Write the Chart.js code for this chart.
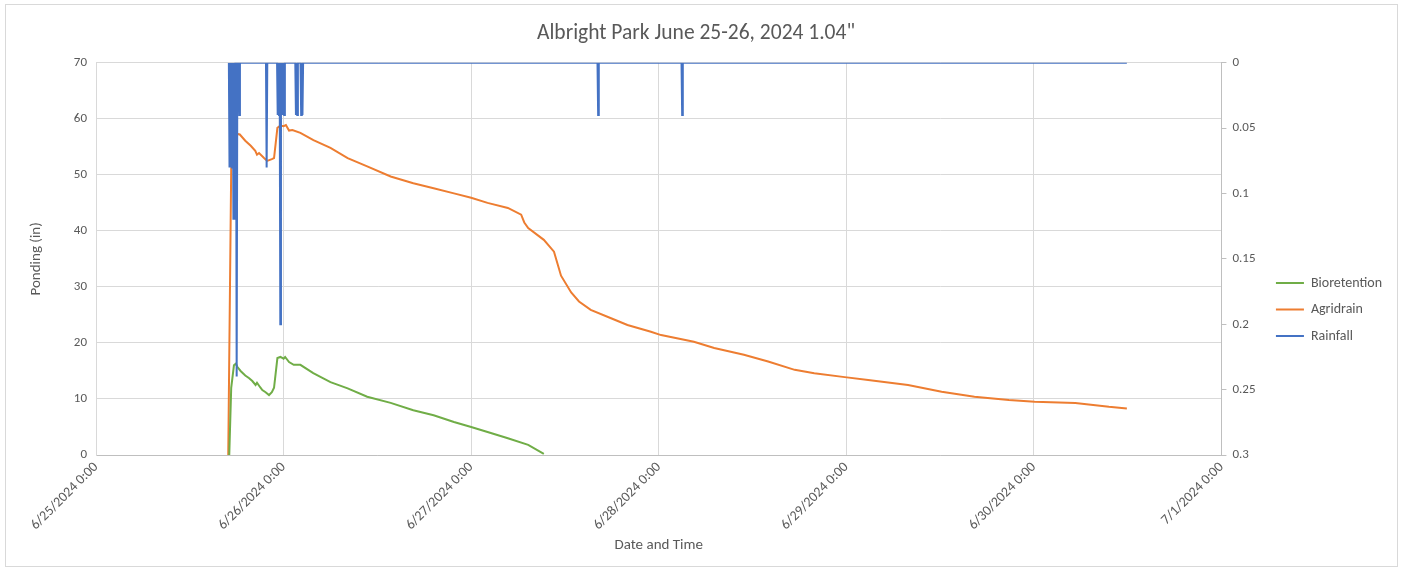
<!DOCTYPE html>
<html>
<head>
<meta charset="utf-8">
<script src="https://cdn.jsdelivr.net/npm/chart.js@4.4.1/dist/chart.umd.min.js"></script>
<style>
  html, body { margin: 0; padding: 0; background: #fff; }
  #wrap { width: 1403px; height: 571px; position: relative; }
</style>
</head>
<body>
<div id="wrap"><canvas id="chart"></canvas></div>
<script>
// hours since 6/25/2024 0:00
const bioHours = [17.05, 17.3, 17.65, 17.9, 18.1, 18.5, 19.1, 19.6, 20.0, 20.42, 20.6, 21.0, 21.28, 21.7, 22.14, 22.5, 22.78, 23.21, 23.6, 24.0, 24.2, 24.7, 25.3, 26.15, 27.8, 30.0, 32.2, 34.7, 37.7, 40.6, 43.2, 45.8, 48.0, 50.1, 52.7, 55.3, 57.3];
const bioValues = [0, 12.0, 16.0, 16.3, 15.7, 15.0, 14.2, 13.7, 13.2, 12.5, 12.9, 12.1, 11.6, 11.2, 10.7, 11.2, 12.0, 17.3, 17.5, 17.2, 17.5, 16.6, 16.1, 16.1, 14.6, 13.0, 11.9, 10.4, 9.3, 8.0, 7.1, 5.9, 5.0, 4.1, 3.0, 1.8, 0.2];

const agriHours = [16.92, 17.3, 17.6, 18.1, 18.4, 19.1, 19.8, 20.38, 20.6, 20.86, 21.5, 21.9, 22.5, 22.78, 23.21, 23.6, 24.0, 24.3, 24.7, 25.13, 26.15, 27.82, 30.0, 32.2, 34.7, 37.7, 40.6, 43.2, 45.8, 48.0, 50.1, 52.7, 54.4, 54.8, 55.3, 57.3, 58.6, 59.5, 60.8, 61.8, 63.3, 65.9, 68.0, 71.0, 72.3, 76.5, 79.1, 82.9, 86.0, 89.4, 91.9, 95.8, 98.8, 103.9, 108.2, 112.4, 116.8, 120.1, 125.3, 129.6, 131.9];
const agriValues = [0, 51.2, 55.0, 57.3, 57.2, 56.1, 55.2, 54.3, 53.6, 53.9, 53.0, 52.5, 52.8, 53.0, 58.4, 58.8, 58.7, 58.9, 57.9, 58.0, 57.5, 56.2, 54.8, 53.0, 51.5, 49.7, 48.5, 47.6, 46.7, 45.9, 45.0, 44.1, 42.9, 41.5, 40.5, 38.4, 36.3, 32.0, 29.0, 27.4, 25.9, 24.4, 23.2, 22.0, 21.4, 20.2, 19.1, 17.9, 16.7, 15.2, 14.6, 13.9, 13.4, 12.5, 11.3, 10.4, 9.8, 9.5, 9.3, 8.6, 8.3];

const rainHours = [17.0, 17.083, 17.167, 17.25, 17.333, 17.417, 17.5, 17.583, 17.667, 17.75, 17.833, 17.917, 18.0, 18.083, 18.25, 18.333, 18.417,
  21.75, 21.833, 21.917,
  23.167, 23.25, 23.333, 23.417, 23.5, 23.583, 23.667, 23.75, 23.833, 23.917, 24.0, 24.083, 24.167,
  25.5, 25.583, 25.667, 25.75, 25.833, 26.167, 26.25, 26.333, 26.417, 26.5,
  64.167, 64.25, 64.333, 74.917, 75.0, 75.083, 131.9];
const rainValues = [0, 0.08, 0, 0.08, 0, 0.08, 0, 0.12, 0, 0.12, 0, 0, 0.24, 0, 0, 0.04, 0,
  0, 0.08, 0,
  0, 0.04, 0, 0.04, 0, 0.2, 0, 0.04, 0, 0.04, 0, 0.04, 0,
  0, 0.04, 0, 0.04, 0, 0, 0.04, 0, 0.04, 0,
  0, 0.04, 0, 0, 0.04, 0, 0];

const xTicks = [0, 24, 48, 72, 96, 120, 144];
const leftTicks = [0, 10, 20, 30, 40, 50, 60, 70];
const rightTicks = [0, 0.05, 0.1, 0.15, 0.2, 0.25, 0.3];

const FONT = 'Calibri, Carlito, Lato, "Open Sans", sans-serif';
const GREY = '#595959';

function pts(xs, ys) { return xs.map((x, i) => ({ x, y: ys[i] })); }

function dateLabel(h) {
  const d = new Date(2024, 5, 25 + h / 24);
  return `${d.getMonth() + 1}/${d.getDate()}/${d.getFullYear()} 0:00`;
}

const frame = {
  id: 'frame',
  beforeDraw(chart) {
    const { ctx, width, height } = chart;
    ctx.save();
    ctx.fillStyle = '#fff';
    ctx.fillRect(0, 0, width, height);
    ctx.strokeStyle = '#d9d9d9';
    ctx.lineWidth = 1;
    ctx.strokeRect(5.5, 4.5, width - 11, height - 9);
    ctx.restore();
  },
  afterLayout(chart) {
    // push legend down to where Excel puts it
    const l = chart.legend;
    if (l) { l.top += 24; l.bottom += 24; }
  }
};

new Chart(document.getElementById('chart'), {
  type: 'line',
  data: {
    datasets: [
      { label: 'Bioretention', data: pts(bioHours, bioValues), borderColor: '#70ad47', backgroundColor: '#70ad47', yAxisID: 'y', order: 1 },
      { label: 'Agridrain', data: pts(agriHours, agriValues), borderColor: '#ed7d31', backgroundColor: '#ed7d31', yAxisID: 'y', order: 1 },
      { label: 'Rainfall', data: pts(rainHours, rainValues), borderColor: '#4472c4', backgroundColor: '#4472c4', yAxisID: 'y2', order: 0 },
    ]
  },
  options: {
    responsive: true,
    maintainAspectRatio: false,
    animation: false,
    parsing: false,
    elements: {
      point: { radius: 0 },
      line: { borderWidth: 2, tension: 0 }
    },
    layout: { padding: { left: 0, right: 11, top: 0, bottom: 0 } },
    plugins: {
      title: {
        display: true,
        text: 'Albright Park June 25-26, 2024 1.04"',
        color: GREY,
        font: { family: FONT, size: 21.5, weight: 'normal' },
        padding: { top: 21, bottom: 16 }
      },
      legend: {
        position: 'right',
        labels: {
          color: GREY,
          font: { family: FONT, size: 14 },
          boxWidth: 28,
          boxHeight: 2,
          padding: 12.5,
          sort: (a, b) => a.datasetIndex - b.datasetIndex,
          generateLabels(chart) {
            return Chart.defaults.plugins.legend.labels.generateLabels(chart).map(it => ({ ...it, fillStyle: it.strokeStyle, lineWidth: 0 }));
          }
        }
      },
      tooltip: { enabled: false }
    },
    scales: {
      x: {
        type: 'linear',
        min: 0,
        max: 144,
        afterBuildTicks(s) { s.ticks = xTicks.map(v => ({ value: v })); },
        afterFit(s) { s.height = 116; },
        ticks: {
          color: GREY,
          font: { family: FONT, size: 14 },
          maxRotation: 45,
          minRotation: 45,
          padding: 4,
          callback: v => dateLabel(v)
        },
        grid: { color: '#d9d9d9', drawTicks: false },
        border: { color: '#bfbfbf' },
        title: {
          display: true,
          text: 'Date and Time',
          color: GREY,
          font: { family: FONT, size: 15 },
          padding: { top: 0, bottom: 17 }
        }
      },
      y: {
        position: 'left',
        min: 0,
        max: 70,
        afterBuildTicks(s) { s.ticks = leftTicks.map(v => ({ value: v })); },
        afterFit(s) { s.width = 96; },
        ticks: { color: GREY, font: { family: FONT, size: 13 }, padding: 9 },
        grid: { color: '#d9d9d9', drawTicks: false },
        border: { color: '#d9d9d9' },
        title: {
          display: true,
          text: 'Ponding (in)',
          color: GREY,
          font: { family: FONT, size: 15 },
          padding: { top: 27, bottom: 0 }
        }
      },
      y2: {
        position: 'right',
        reverse: true,
        min: 0,
        max: 0.3,
        afterBuildTicks(s) { s.ticks = rightTicks.map(v => ({ value: v })); },
        afterFit(s) { s.width = 42; },
        ticks: { color: GREY, font: { family: FONT, size: 13 }, padding: 6, callback: v => String(+v.toFixed(2)) },
        grid: { drawOnChartArea: false, color: '#bfbfbf', tickLength: 5 },
        border: { color: '#bfbfbf' }
      }
    }
  },
  plugins: [frame]
});
</script>
</body>
</html>
